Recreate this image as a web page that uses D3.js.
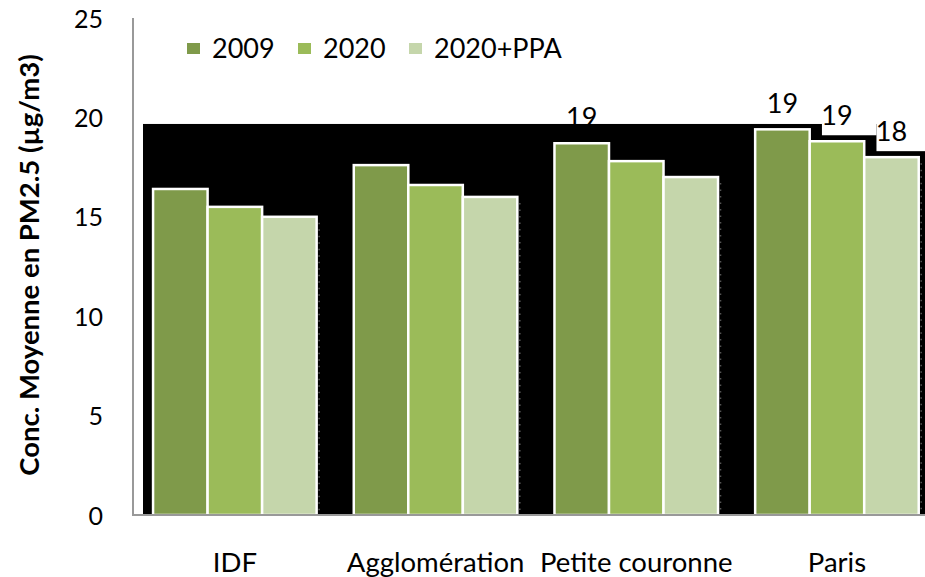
<!DOCTYPE html>
<html>
<head>
<meta charset="utf-8">
<script src="https://cdn.jsdelivr.net/npm/d3@7"></script>
<style>
  html, body { margin: 0; padding: 0; background: #fff; }
  svg { display: block; }
  text { font-family: Lato, "Open Sans", sans-serif; fill: #000; }
</style>
</head>
<body>
<svg id="chart" width="925" height="577"></svg>
<script>
// Mean PM2.5 concentration per zone and scenario
const categories = ["IDF", "Agglomération", "Petite couronne", "Paris"];
const seriesNames = ["2009", "2020", "2020+PPA"];
const values2009 = [16.4, 17.6, 18.7, 19.4];
const values2020 = [15.5, 16.6, 17.8, 18.8];
const valuesPPA  = [15.0, 16.0, 17.0, 18.0];
const yTicks = [0, 5, 10, 15, 20, 25];
const colors = ["#7f9a4a", "#9bbb59", "#c5d6ab"];
// bars carrying a value label: [category index, series index]
const labelled = [[2, 0], [3, 0], [3, 1], [3, 2]];

const seriesValues = [values2009, values2020, valuesPPA];
const rows = [];
categories.forEach((c, ci) => seriesNames.forEach((s, si) =>
  rows.push({ cat: c, series: s, ci, si, value: seriesValues[si][ci] })));

const svg = d3.select("#chart");

const y = d3.scaleLinear().domain([0, 25]).range([515, 18]);
const x0 = d3.scaleBand().domain(categories)
  .range([133, 938.8]).paddingInner(0.185).paddingOuter(0.1);
const x1 = d3.scaleBand().domain(seriesNames).range([0, x0.bandwidth()]);
const fmt = d3.format(".0f");

const labelData = labelled.map(([ci, si]) => rows.find(r => r.ci === ci && r.si === si));
const lx = d => x0(d.cat) + x1(d.series) + x1.bandwidth() / 2;
const ly = d => y(d.value) - 16.5;

// label drawn before the dark panel (it sits partly under it)
const under = labelData.filter(d => d.ci === 2);
const over = labelData.filter(d => d.ci !== 2);

svg.append("g").selectAll("text").data(under).join("text")
  .attr("x", lx).attr("y", ly).attr("text-anchor", "middle")
  .style("font-size", "27px").text(d => fmt(d.value));

// dark plot panel
svg.append("rect")
  .attr("x", 143).attr("y", y(19.67))
  .attr("width", 925 - 143).attr("height", y(0) - y(19.67))
  .attr("fill", "#000");

// white label boxes cut into the panel
svg.append("g").selectAll("rect").data(over).join("rect")
  .attr("x", d => lx(d) - 15)
  .attr("y", 0)
  .attr("width", x1.bandwidth())
  .attr("height", d => ly(d) + 10.5)
  .attr("fill", "#fff");

// faint dotted gridline stubs at group edges
svg.append("g").selectAll("line").data(categories).join("line")
  .attr("x1", c => x0(c) + x0.bandwidth() + 2.5)
  .attr("x2", c => x0(c) + x0.bandwidth() + 2.5)
  .attr("y1", (c, i) => y(valuesPPA[i]) + 6)
  .attr("y2", y(0) - 2)
  .attr("stroke", "#555").attr("stroke-width", 1.5)
  .attr("stroke-dasharray", "1.5,5");

// bars
svg.append("g").selectAll("rect").data(rows).join("rect")
  .attr("x", d => x0(d.cat) + x1(d.series))
  .attr("y", d => y(d.value))
  .attr("width", x1.bandwidth())
  .attr("height", d => y(0) - y(d.value))
  .attr("fill", d => colors[d.si])
  .attr("stroke", "#fff").attr("stroke-width", 2.5);

// value labels
svg.append("g").selectAll("text").data(over).join("text")
  .attr("x", lx).attr("y", ly).attr("text-anchor", "middle")
  .style("font-size", "27px").text(d => fmt(d.value));

// axes lines
svg.append("line").attr("x1", 133).attr("x2", 133)
  .attr("y1", y(25)).attr("y2", y(0) + 1)
  .attr("stroke", "#999").attr("stroke-width", 2);
svg.append("line").attr("x1", 132).attr("x2", 925)
  .attr("y1", y(0)).attr("y2", y(0))
  .attr("stroke", "#999").attr("stroke-width", 2);

// y tick labels
const yAxis = d3.axisLeft(y).tickValues(yTicks).tickSize(0).tickPadding(0);
const gy = svg.append("g").attr("transform", "translate(103,0)").call(yAxis);
gy.select(".domain").remove();
gy.selectAll("text").attr("dy", "0.36em")
  .style("font-family", "Lato, 'Open Sans', sans-serif")
  .style("font-size", "25px").attr("fill", "#000");

// category labels
const xAxis = d3.axisBottom(x0).tickSize(0).tickPadding(0);
const gx = svg.append("g").attr("transform", "translate(0,572)").call(xAxis);
gx.select(".domain").remove();
gx.selectAll("text").attr("y", 0).attr("dy", "0")
  .style("font-family", "Lato, 'Open Sans', sans-serif")
  .style("font-size", "27.5px").attr("fill", "#000");

// y axis title
svg.append("text")
  .attr("transform", "translate(39,265) rotate(-90)")
  .attr("text-anchor", "middle")
  .style("font-size", "27.5px").style("font-weight", "bold")
  .text("Conc. Moyenne en PM2.5 (µg/m3)");

// legend
const legend = svg.append("g").selectAll("g").data(seriesNames).join("g")
  .attr("transform", (d, i) => `translate(${187 + i * 111},43)`);
legend.append("rect").attr("width", 13).attr("height", 11)
  .attr("fill", (d, i) => colors[i]);
legend.append("text").attr("x", 25).attr("y", 14.5)
  .style("font-size", "27px").text(d => d);
</script>
</body>
</html>
